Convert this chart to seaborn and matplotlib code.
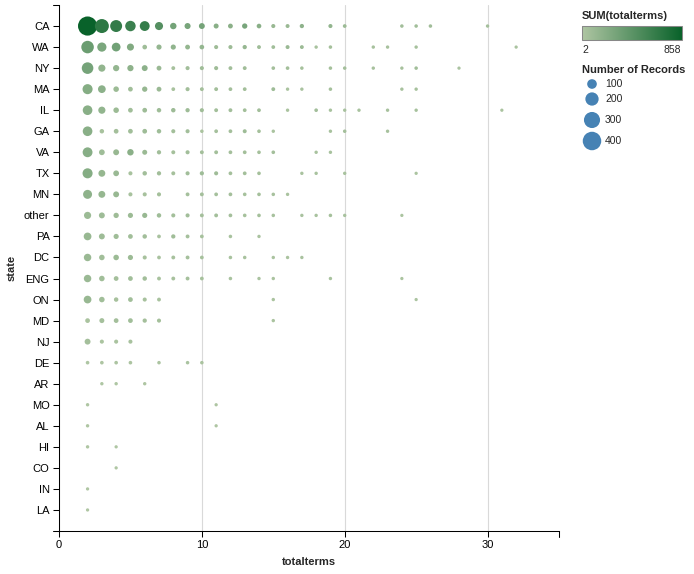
import pandas as pd
import matplotlib.pyplot as plt
import seaborn as sns
from matplotlib.colors import LinearSegmentedColormap
from matplotlib.lines import Line2D
from matplotlib.patches import Rectangle
import numpy as np

# state order on the y axis (top to bottom)
states = ['CA', 'WA', 'NY', 'MA', 'IL', 'GA', 'VA', 'TX', 'MN', 'other', 'PA', 'DC',
          'ENG', 'ON', 'MD', 'NJ', 'DE', 'AR', 'MO', 'AL', 'HI', 'CO', 'IN', 'LA']

# totalterms values present per state, and number of records at each
CA_terms = [2, 3, 4, 5, 6, 7, 8, 9, 10, 11, 12, 13, 14, 15, 16, 17, 19, 20, 24, 25, 26, 30]
CA_n = [429, 224, 160, 120, 105, 67, 38, 32, 30, 18, 16, 22, 14, 8, 7, 10, 8, 5, 3, 3, 3, 2]
WA_terms = [2, 3, 4, 5, 6, 7, 8, 9, 10, 11, 12, 13, 14, 15, 16, 17, 18, 19, 22, 23, 25, 32]
WA_n = [177, 90, 80, 48, 14, 20, 20, 16, 14, 8, 8, 10, 6, 5, 7, 6, 2, 3, 2, 2, 2, 1]
NY_terms = [2, 3, 4, 5, 6, 7, 8, 9, 10, 11, 12, 13, 15, 16, 17, 19, 20, 22, 24, 25, 28]
NY_n = [150, 50, 35, 35, 30, 16, 6, 8, 8, 8, 6, 6, 4, 4, 3, 3, 3, 2, 2, 3, 1]
MA_terms = [2, 3, 4, 5, 6, 7, 8, 9, 10, 11, 12, 13, 15, 16, 17, 19, 24, 25]
MA_n = [110, 60, 25, 15, 22, 16, 5, 8, 6, 6, 5, 5, 6, 2, 2, 3, 2, 2]
IL_terms = [2, 3, 4, 5, 6, 7, 8, 9, 10, 11, 12, 13, 14, 16, 18, 19, 20, 21, 23, 25, 31]
IL_n = [100, 50, 25, 15, 15, 12, 12, 10, 8, 6, 6, 5, 5, 2, 4, 2, 2, 2, 2, 2, 1]
GA_terms = [2, 3, 4, 5, 6, 7, 8, 9, 10, 11, 12, 13, 14, 15, 19, 20, 23]
GA_n = [100, 12, 15, 15, 15, 12, 8, 8, 3, 5, 5, 7, 4, 2, 2, 3, 2]
VA_terms = [2, 3, 4, 5, 6, 7, 8, 9, 10, 11, 12, 13, 14, 15, 18, 19]
VA_n = [105, 28, 30, 38, 18, 10, 7, 8, 6, 6, 5, 5, 4, 4, 2, 2]
TX_terms = [2, 3, 4, 5, 6, 7, 8, 9, 10, 11, 12, 13, 14, 17, 18, 20, 25]
TX_n = [110, 45, 28, 8, 12, 10, 7, 8, 9, 8, 5, 5, 4, 2, 2, 2, 1]
MN_terms = [2, 3, 4, 5, 6, 7, 9, 10, 11, 12, 13, 14, 15, 16]
MN_n = [85, 45, 30, 8, 8, 8, 6, 6, 5, 5, 4, 4, 3, 2]
other_terms = [2, 3, 4, 5, 6, 7, 8, 9, 10, 11, 12, 13, 14, 15, 17, 18, 19, 20, 24]
other_n = [50, 30, 22, 20, 20, 12, 8, 8, 6, 6, 5, 4, 4, 3, 2, 2, 3, 2, 1]
PA_terms = [2, 3, 4, 5, 6, 7, 8, 9, 10, 12, 14]
PA_n = [60, 30, 20, 15, 12, 5, 10, 6, 5, 3, 2]
DC_terms = [2, 3, 4, 5, 6, 7, 8, 9, 10, 12, 13, 15, 16, 17]
DC_n = [55, 25, 25, 20, 8, 5, 6, 6, 5, 3, 3, 2, 2, 2]
ENG_terms = [2, 3, 4, 5, 6, 7, 8, 9, 10, 12, 14, 15, 19, 24]
ENG_n = [55, 25, 15, 15, 12, 6, 6, 6, 5, 3, 2, 2, 2, 1]
ON_terms = [2, 3, 4, 5, 6, 7, 15, 25]
ON_n = [60, 25, 12, 15, 8, 6, 2, 1]
MD_terms = [2, 3, 4, 5, 6, 7, 15]
MD_n = [15, 18, 15, 15, 10, 8, 2]
NJ_terms = [2, 3, 4, 5]
NJ_n = [30, 8, 8, 8]
DE_terms = [2, 3, 4, 5, 7, 9, 10]
DE_n = [4, 4, 4, 4, 3, 3, 3]
AR_terms = [3, 4, 6]
AR_n = [2, 2, 2]
MO_terms = [2, 11]
MO_n = [2, 1]
AL_terms = [2, 11]
AL_n = [2, 1]
HI_terms = [2, 4]
HI_n = [2, 1]
CO_terms = [4]
CO_n = [1]
IN_terms = [2]
IN_n = [1]
LA_terms = [2]
LA_n = [1]

size_legend = [100, 200, 300, 400]

rows = []
for st in states:
    for t, n in zip(globals()[st + '_terms'], globals()[st + '_n']):
        rows.append({'state': st, 'totalterms': t, 'records': n, 'sum': t * n})
df = pd.DataFrame(rows)

sns.set_style('white')
plt.rcParams['font.family'] = ['Liberation Sans', 'DejaVu Sans']

W, H = 694, 574
fig = plt.figure(figsize=(W / 100, H / 100), dpi=100)
ax = fig.add_axes([59 / W, 1 - 531 / H, 500 / W, 526 / H])

cmap = LinearSegmentedColormap.from_list('vl_green', ['#AFC6A3', '#09622A'])
max_n = 429
px2pt = 0.72 ** 2
# marker area in px^2 grows linearly with record count
lo_px, hi_px = 10, 10 + 0.83 * max_n


def area_pt(n):
    return (lo_px + (hi_px - lo_px) * n / max_n) * px2pt


ax.grid(axis='x', color='#d9d9d9', lw=0.8)
ax.set_axisbelow(True)
sns.scatterplot(data=df, x='totalterms', y='state', size='records',
                sizes=(lo_px * px2pt, hi_px * px2pt), size_norm=(0, max_n),
                hue='sum', palette=cmap, hue_norm=(2, 858),
                linewidth=0, alpha=1, legend=False, ax=ax, zorder=3)

ax.set_xlim(0, 35)
ax.set_xticks([0, 10, 20, 30])
ax.set_ylim(len(states), -1)
for s in ['top', 'right']:
    ax.spines[s].set_visible(False)
for s in ['left', 'bottom']:
    ax.spines[s].set_color('black')
    ax.spines[s].set_linewidth(0.75)
ax.tick_params(length=4.3, width=0.75, colors='black', labelsize=8, pad=2.5,
               left=True, bottom=True)
ax.set_xlabel('totalterms', fontsize=8, fontweight='bold', labelpad=5)
ax.set_ylabel('state', fontsize=8, fontweight='bold', labelpad=5)

# outer ticks at the ends of the axis lines
for xs, ys in [([53, 59], [5, 5]), ([53, 59], [531, 531]), ([559, 559], [531, 537])]:
    fig.add_artist(Line2D([x / W for x in xs], [1 - y / H for y in ys],
                          color='black', lw=0.75))

# legends
lax = fig.add_axes([560 / W, 1 - 160 / H, 134 / W, 160 / H])
grad = np.linspace(0, 1, 256).reshape(1, -1)
lax.imshow(grad, extent=(581.5, 681.5, 40, 26), cmap=cmap, aspect='auto')
lax.add_patch(Rectangle((581.5, 26), 100, 14, fill=False, ec='#888888', lw=0.75))
lax.set_xlim(560, 694)
lax.set_ylim(160, 0)
lax.axis('off')
lax.text(582, 16, 'SUM(totalterms)', fontsize=8, fontweight='bold', va='center')
lax.text(582, 50, '2', fontsize=7.5, va='center')
lax.text(681, 50, '858', fontsize=7.5, va='center', ha='right')
lax.text(582, 70, 'Number of Records', fontsize=8, fontweight='bold', va='center')
ys = [84, 99, 120, 141]
lax.scatter([592] * 4, ys, s=[area_pt(v) for v in size_legend], color='#4682b4',
            linewidth=0)
for y, v in zip(ys, size_legend):
    lax.text(605, y, str(v), fontsize=7.5, va='center')

fig.savefig('out.png', dpi=100)
